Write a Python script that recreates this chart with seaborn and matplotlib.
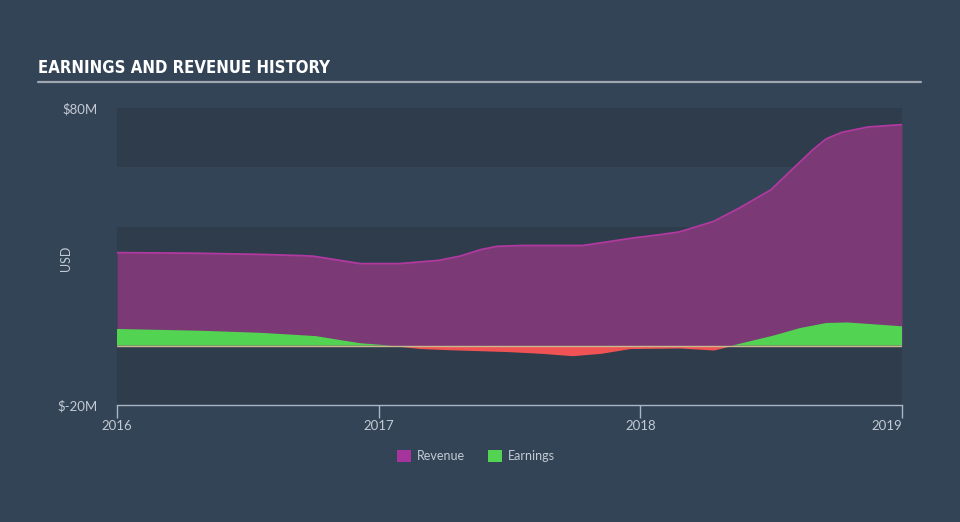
import numpy as np
import pandas as pd
import matplotlib
matplotlib.use("Agg")
import matplotlib.pyplot as plt
import seaborn as sns
from matplotlib.patches import Patch

# ---- data (USD millions) ----
rev_years = [2016.00, 2016.30, 2016.55, 2016.70, 2016.75, 2016.83, 2016.93, 2017.08,
             2017.23, 2017.31, 2017.39, 2017.45, 2017.55, 2017.78, 2017.85, 2017.97,
             2018.08, 2018.15, 2018.28, 2018.38, 2018.50, 2018.58, 2018.66, 2018.71,
             2018.77, 2018.87, 2019.00]
revenue = [31.3, 31.1, 30.7, 30.3, 30.1, 29.0, 27.6, 27.6,
           28.7, 30.1, 32.3, 33.4, 33.7, 33.7, 34.6, 36.2,
           37.4, 38.3, 41.8, 46.4, 52.5, 59.3, 66.0, 69.6,
           71.8, 73.6, 74.4]

earn_years = [2016.00, 2016.32, 2016.55, 2016.76, 2016.85, 2016.93, 2017.05, 2017.16,
              2017.27, 2017.49, 2017.62, 2017.74, 2017.85, 2017.96, 2018.15, 2018.28,
              2018.35, 2018.51, 2018.61, 2018.71, 2018.79, 2019.00]
earnings = [5.6, 5.0, 4.3, 3.2, 1.9, 0.8, 0.0, -1.0,
            -1.4, -2.0, -2.6, -3.4, -2.6, -1.0, -0.8, -1.5,
            0.0, 3.4, 5.9, 7.6, 7.8, 6.5]

year_ticks = [2016, 2017, 2018, 2019]
year_labels = ["2016", "2017", "2018", "2019"]
y_ticks = [-20, 80]
y_labels = ["$-20M", "$80M"]

rev_df = pd.DataFrame({"year": rev_years, "value": revenue})
earn_df = pd.DataFrame({"year": earn_years, "value": earnings})

# ---- style ----
sns.set_style("dark")
BG = "#334457"
PLOT_BG = "#2e3c4c"
TXT = "#c3cad2"
REV_FILL = "#7b3a75"
REV_LINE = "#b2399f"
GREEN = "#52d452"
RED = "#f05353"
plt.rcParams["font.family"] = ["Lato", "DejaVu Sans"]

fig = plt.figure(figsize=(9.6, 5.22), dpi=100, facecolor=BG)
ax = fig.add_axes([117 / 960, 1 - 405 / 522, (902 - 117) / 960, (405 - 108) / 522])
ax.set_facecolor(BG)

# background bands
for lo, hi in [(60, 80), (0, 40), (-20, 0)]:
    ax.axhspan(lo, hi, color=PLOT_BG, zorder=0, lw=0)

# revenue
ax.fill_between(rev_df["year"], 0, rev_df["value"], color=REV_FILL, lw=0, zorder=2)
sns.lineplot(data=rev_df, x="year", y="value", ax=ax, color=REV_LINE, lw=1.3, zorder=3)

# earnings
ev = earn_df["value"].to_numpy()
ax.fill_between(earn_df["year"], 0, ev, where=ev >= 0, interpolate=True,
                color=GREEN, lw=0, zorder=4)
ax.fill_between(earn_df["year"], 0, ev, where=ev <= 0, interpolate=True,
                color=RED, lw=0, zorder=4)
ax.axhline(0, color="#c9b98f", lw=1.0, zorder=5)

ax.set_xlim(2016, 2019)
ax.set_ylim(-20, 80)
ax.set_xticks(year_ticks)
ax.set_xticklabels(year_labels)
ax.set_yticks(y_ticks)
ax.set_yticklabels(y_labels)
ax.set_xlabel("")
ax.set_ylabel("")
ax.grid(False)

for s in ["top", "right", "left"]:
    ax.spines[s].set_visible(False)
ax.spines["bottom"].set_color("#a9b6c4")
ax.spines["bottom"].set_linewidth(1.0)
ax.tick_params(axis="x", colors="#a9b6c4", labelcolor=TXT, length=9, width=1,
               direction="out", pad=2, labelsize=9.5, bottom=True)
ax.tick_params(axis="y", length=0, pad=14, labelcolor=TXT, labelsize=9.5)
labs = ax.get_xticklabels()
labs[-1].set_horizontalalignment("right")

fig.text(66 / 960, 1 - 258 / 522, "USD", color=TXT, fontsize=9, rotation=90,
         ha="center", va="center")

# title
fig.text(38 / 960, 1 - 68 / 522, "EARNINGS AND REVENUE HISTORY", color="white",
         fontsize=12, fontweight="bold", family="DejaVu Sans", stretch="condensed",
         va="center", ha="left")
fig.add_artist(plt.Line2D([38 / 960, 921 / 960], [1 - 82 / 522, 1 - 82 / 522],
                          color="#9ea6b0", lw=1.6))

# legend
handles = [Patch(facecolor="#a5359c", edgecolor="none", label="Revenue"),
           Patch(facecolor=GREEN, edgecolor="none", label="Earnings")]
fig.legend(handles=handles, loc="center", bbox_to_anchor=(476 / 960, 1 - 456 / 522),
           ncol=2, frameon=False, fontsize=9, labelcolor=TXT, handlelength=1.1,
           handleheight=1.1, columnspacing=1.8, handletextpad=0.5)

fig.savefig("out.png", dpi=100, facecolor=BG)
